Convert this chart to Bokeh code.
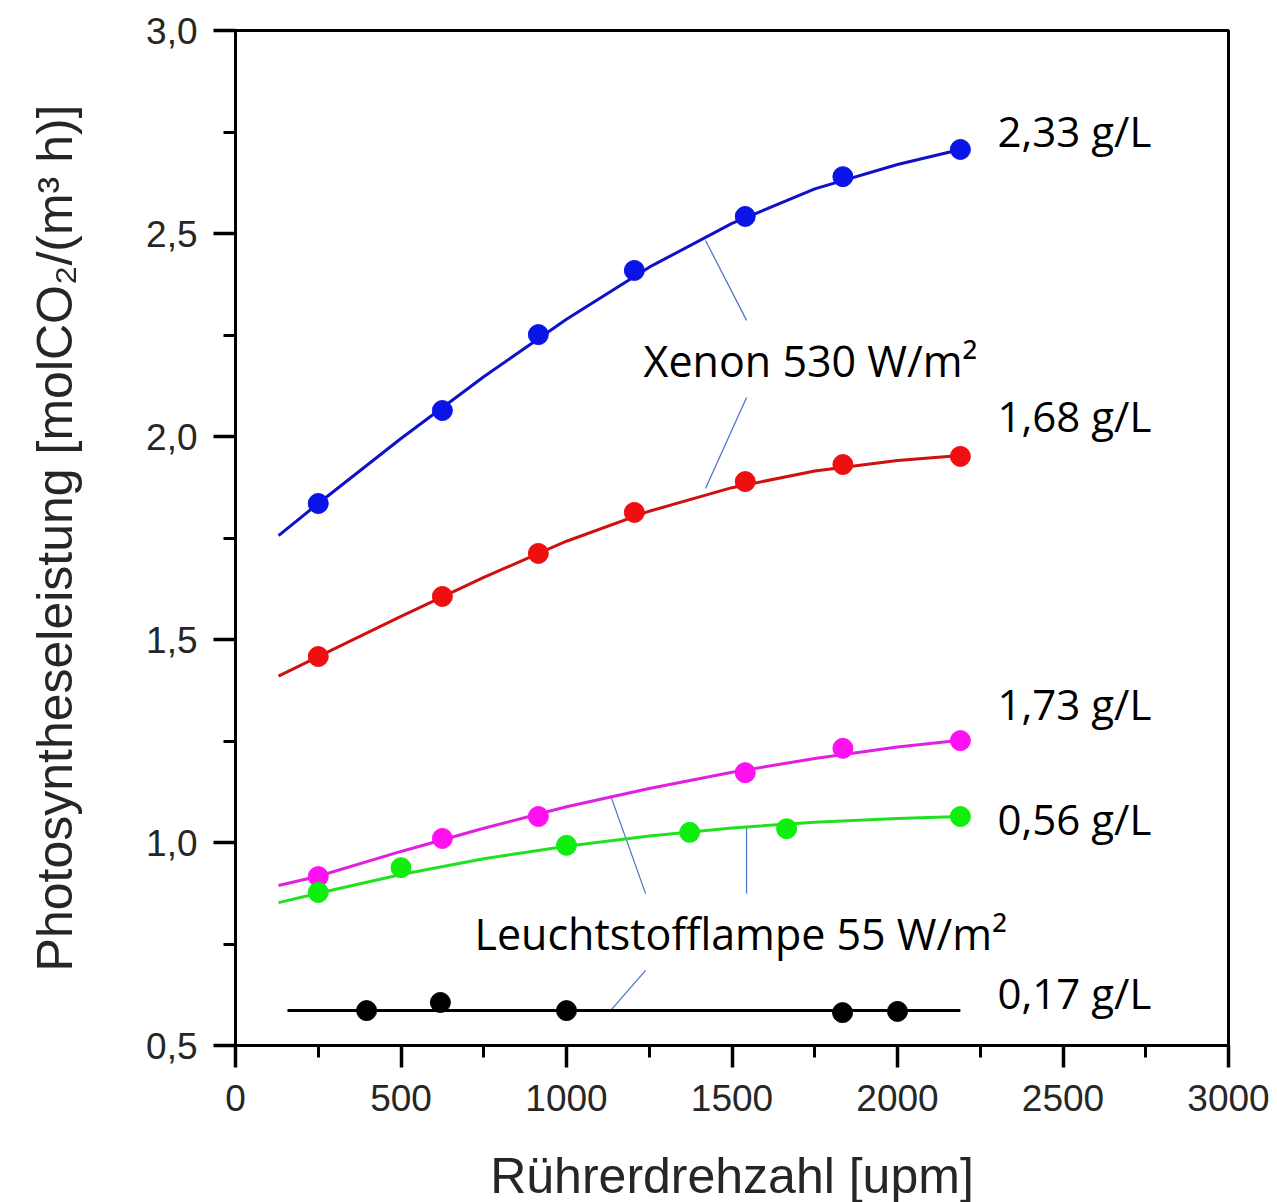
from bokeh.plotting import figure
from bokeh.models import Range1d, FixedTicker, CustomJSTickFormatter, ColumnDataSource
from bokeh.core.properties import value
from bokeh.embed import file_html
from bokeh.resources import INLINE

# ---- data ----
rpm_xe = [250, 625, 915, 1205, 1540, 1835, 2190]
xe_233 = [1.835, 2.064, 2.251, 2.409, 2.542, 2.640, 2.707]
xe_168 = [1.458, 1.606, 1.712, 1.813, 1.889, 1.931, 1.951]

rpm_l173 = [250, 625, 915, 1540, 1835, 2190]
l_173 = [0.916, 1.010, 1.064, 1.172, 1.232, 1.251]

rpm_l056 = [250, 500, 1000, 1372, 1665, 2190]
l_056 = [0.877, 0.938, 0.993, 1.025, 1.034, 1.064]

rpm_l017 = [396, 619, 1000, 1834, 2000]
l_017 = [0.586, 0.606, 0.586, 0.581, 0.584]

# fitted curves
rpm_fit = [130, 250, 500, 750, 1000, 1250, 1500, 1750, 2000, 2190]
fit_233 = [1.756, 1.835, 1.995, 2.147, 2.289, 2.417, 2.525, 2.610, 2.670, 2.707]
fit_168 = [1.410, 1.458, 1.557, 1.653, 1.742, 1.816, 1.874, 1.915, 1.941, 1.953]
fit_173 = [0.894, 0.917, 0.978, 1.035, 1.088, 1.133, 1.173, 1.207, 1.235, 1.252]
fit_056 = [0.852, 0.875, 0.921, 0.960, 0.991, 1.016, 1.036, 1.050, 1.059, 1.064]
rpm_fit017 = [157, 2190]
fit_017 = [0.586, 0.586]

conc_labels = ["2,33 g/L", "1,68 g/L", "1,73 g/L", "0,56 g/L", "0,17 g/L"]
conc_y = [2.754, 2.052, 1.342, 1.059, 0.631]
conc_x = [2302, 2302, 2302, 2302, 2302]

lamp_labels = ["Xenon 530 W/m²", "Leuchtstofflampe 55 W/m²"]
lamp_x = [1233, 722]
lamp_y = [2.187, 0.776]

# leader lines (x0, y0) -> (x1, y1)
lead_x0 = [1420, 1544, 1133, 1544, 1239]
lead_y0 = [2.483, 2.096, 1.116, 1.039, 0.685]
lead_x1 = [1544, 1420, 1239, 1544, 1133]
lead_y1 = [2.286, 1.872, 0.874, 0.874, 0.586]

x_ticks = [0, 500, 1000, 1500, 2000, 2500, 3000]
x_minor = [250, 750, 1250, 1750, 2250, 2750]
y_ticks = [0.5, 1.0, 1.5, 2.0, 2.5, 3.0]
y_minor = [0.75, 1.25, 1.75, 2.25, 2.75]

p = figure(width=1277, height=1202, output_backend="svg", toolbar_location=None,
           x_range=Range1d(0, 3000), y_range=Range1d(0.5, 3.0),
           frame_width=993, frame_height=1015)
p.min_border_left = 235
p.min_border_right = 49
p.min_border_top = 30
p.min_border_bottom = 157
p.xgrid.visible = False
p.ygrid.visible = False
p.outline_line_color = "black"
p.outline_line_width = 3
p.background_fill_color = "white"
p.border_fill_color = "white"

p.xaxis.ticker = FixedTicker(ticks=x_ticks, minor_ticks=x_minor)
p.yaxis.ticker = FixedTicker(ticks=y_ticks, minor_ticks=y_minor)
p.yaxis.formatter = CustomJSTickFormatter(code="return tick.toFixed(1).replace('.', ',');")
p.xaxis.formatter = CustomJSTickFormatter(code="return tick.toFixed(0);")

for ax in (p.xaxis[0], p.yaxis[0]):
    ax.axis_line_width = 3
    ax.axis_line_color = "black"
    ax.major_tick_line_width = 3.5
    ax.minor_tick_line_width = 3
    ax.major_tick_out = 22
    ax.major_tick_in = 0
    ax.minor_tick_out = 12
    ax.minor_tick_in = 0
    ax.major_label_text_font = "Liberation Sans"
    ax.major_label_text_font_size = "37px"
    ax.major_label_text_color = "#262626"
    ax.axis_label_text_font = "Liberation Sans"
    ax.axis_label_text_font_style = "normal"
    ax.axis_label_text_color = "#262626"

p.xaxis.axis_label = "Rührerdrehzahl [upm]"
p.xaxis.axis_label_text_font_size = "50px"
p.xaxis.major_label_standoff = 17
p.xaxis.axis_label_standoff = 34

p.yaxis.axis_label = "Photosyntheseleistung [molCO₂/(m³ h)]"
p.yaxis.axis_label_text_font_size = "50px"
p.yaxis.major_label_standoff = 16
p.yaxis.axis_label_standoff = 60

# leader lines
p.segment(x0=lead_x0, y0=lead_y0, x1=lead_x1, y1=lead_y1, line_color="#4472C4", line_width=1.2)

# fitted curves
p.line(rpm_fit, fit_233, line_color="#1010c8", line_width=3)
p.line(rpm_fit, fit_168, line_color="#d01010", line_width=3)
p.line(rpm_fit, fit_173, line_color="#e020e0", line_width=3)
p.line(rpm_fit, fit_056, line_color="#20e020", line_width=3)
p.line(rpm_fit017, fit_017, line_color="black", line_width=3)

# data points
p.scatter(rpm_xe, xe_233, size=20, fill_color="#0a14e6", line_color="#0a14e6")
p.scatter(rpm_xe, xe_168, size=20, fill_color="#ee1010", line_color="#ee1010")
p.scatter(rpm_l173, l_173, size=20, fill_color="#ff10f0", line_color="#ff10f0")
p.scatter(rpm_l056, l_056, size=20, fill_color="#10ee10", line_color="#10ee10")
p.scatter(rpm_l017, l_017, size=20, fill_color="black", line_color="black")

# text annotations
src_c = ColumnDataSource(dict(x=conc_x, y=conc_y, t=conc_labels))
p.text(x="x", y="y", text="t", source=src_c, text_font=value("Open Sans"),
       text_font_size="42px", text_baseline="middle", text_align="left", text_color="black")
src_l = ColumnDataSource(dict(x=lamp_x, y=lamp_y, t=lamp_labels))
p.text(x="x", y="y", text="t", source=src_l, text_font=value("Open Sans"),
       text_font_size="43px", text_baseline="middle", text_align="left", text_color="black")

open("out.html", "w").write(file_html(p, INLINE))
